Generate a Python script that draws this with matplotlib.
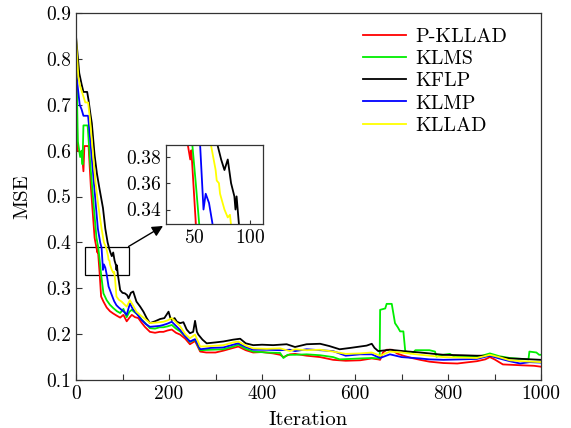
import matplotlib
matplotlib.use("Agg")
import matplotlib.pyplot as plt
from matplotlib.patches import Rectangle

plt.rcParams['font.family'] = 'serif'
plt.rcParams['font.serif'] = ['cmr10', 'DejaVu Serif']
plt.rcParams['mathtext.fontset'] = 'cm'
plt.rcParams['axes.formatter.use_mathtext'] = True

names = ['P-KLLAD', 'KLMS', 'KFLP', 'KLMP', 'KLLAD']
colors = ['#ff0000', '#00ee00', '#000000', '#0000ff', '#ffff00']

# (iteration, MSE)
red_x = [0, 3, 8, 13, 16, 18, 27, 32, 40, 44, 46, 47, 51, 54, 59, 66, 73, 80, 88, 95, 102, 109, 115, 120, 127,
         134, 141, 148, 159, 170, 180, 188, 197, 206, 215, 224, 235, 245, 256, 267, 280, 300, 317, 338, 349,
         365, 381, 400, 424, 439, 446, 460, 471, 496, 525, 553, 580, 611, 636, 650, 654, 660, 668, 680, 690,
         704, 722, 740, 760, 790, 820, 862, 880, 890, 900, 918, 940, 960, 985, 1000]
red_y = [0.84, 0.60, 0.598, 0.59, 0.555, 0.61, 0.61, 0.52, 0.41, 0.388, 0.378, 0.385, 0.33, 0.282, 0.271, 0.258,
         0.25, 0.245, 0.24, 0.236, 0.242, 0.228, 0.236, 0.242, 0.237, 0.235, 0.225, 0.216, 0.205, 0.203, 0.205,
         0.205, 0.208, 0.21, 0.203, 0.199, 0.19, 0.178, 0.185, 0.162, 0.16, 0.16, 0.164, 0.17, 0.173, 0.165,
         0.16, 0.161, 0.158, 0.155, 0.15, 0.156, 0.157, 0.153, 0.15, 0.144, 0.142, 0.143, 0.147, 0.145, 0.144,
         0.16, 0.166, 0.166, 0.158, 0.153, 0.148, 0.144, 0.14, 0.137, 0.136, 0.141, 0.145, 0.15, 0.145, 0.134,
         0.133, 0.132, 0.131, 0.129]

green_x = [0, 4, 9, 12, 14, 16, 25, 30, 38, 44, 48, 51, 54, 59, 66, 73, 80, 88, 95, 102, 109, 115, 120, 127, 134,
           141, 148, 159, 170, 180, 188, 197, 206, 215, 224, 235, 245, 256, 267, 290, 317, 338, 349, 365, 381,
           410, 439, 446, 455, 471, 496, 525, 553, 567, 590, 611, 636, 653, 654, 665, 668, 679, 686, 692, 697,
           704, 708, 720, 725, 730, 760, 772, 775, 790, 804, 815, 850, 870, 890, 910, 933, 973, 975, 990, 996,
           1000]
green_y = [0.83, 0.62, 0.586, 0.60, 0.57, 0.655, 0.655, 0.58, 0.48, 0.41, 0.388, 0.36, 0.33, 0.289, 0.274, 0.264,
           0.257, 0.25, 0.246, 0.255, 0.237, 0.249, 0.253, 0.247, 0.242, 0.232, 0.225, 0.213, 0.212, 0.215,
           0.215, 0.217, 0.22, 0.212, 0.206, 0.195, 0.183, 0.188, 0.165, 0.166, 0.167, 0.173, 0.177, 0.168,
           0.162, 0.16, 0.159, 0.148, 0.155, 0.155, 0.156, 0.154, 0.15, 0.145, 0.146, 0.147, 0.148, 0.147,
           0.253, 0.256, 0.266, 0.266, 0.224, 0.215, 0.206, 0.206, 0.163, 0.158, 0.16, 0.165, 0.165, 0.162,
           0.151, 0.155, 0.157, 0.15, 0.152, 0.152, 0.158, 0.152, 0.148, 0.145, 0.162, 0.16, 0.155, 0.155]

black_x = [0, 7, 12, 16, 24, 27, 31, 34, 40, 45, 50, 58, 63, 68, 71, 74, 77, 80, 83, 86, 87, 88, 90, 95, 100,
           105, 110, 113, 118, 123, 130, 138, 145, 152, 159, 170, 181, 190, 199, 203, 206, 212, 217, 224, 231,
           238, 245, 252, 256, 260, 263, 272, 281, 300, 317, 338, 353, 365, 381, 400, 424, 453, 471, 496, 525,
           545, 567, 590, 611, 625, 636, 642, 650, 675, 704, 740, 790, 830, 862, 890, 933, 960, 1000]
black_y = [0.849, 0.769, 0.745, 0.728, 0.728, 0.71, 0.68, 0.66, 0.59, 0.55, 0.52, 0.475, 0.43, 0.40, 0.388,
           0.378, 0.37, 0.378, 0.36, 0.35, 0.34, 0.35, 0.33, 0.296, 0.29, 0.289, 0.285, 0.278, 0.29, 0.293,
           0.271, 0.26, 0.249, 0.235, 0.224, 0.228, 0.233, 0.235, 0.249, 0.235, 0.231, 0.235, 0.227, 0.224,
           0.226, 0.21, 0.202, 0.205, 0.229, 0.205, 0.199, 0.188, 0.18, 0.182, 0.184, 0.188, 0.19, 0.18, 0.176,
           0.177, 0.176, 0.178, 0.172, 0.178, 0.179, 0.174, 0.167, 0.17, 0.173, 0.175, 0.179, 0.17, 0.163,
           0.166, 0.163, 0.16, 0.155, 0.154, 0.153, 0.153, 0.147, 0.146, 0.144]

blue_x = [0, 3, 8, 12, 16, 26, 30, 36, 41, 47, 52, 55, 58, 60, 63, 66, 70, 77, 82, 87, 92, 98, 104, 109, 116,
          122, 127, 134, 141, 150, 159, 170, 180, 188, 197, 206, 215, 224, 235, 245, 256, 267, 290, 317, 338,
          349, 365, 381, 410, 439, 460, 471, 496, 525, 553, 580, 611, 636, 654, 675, 700, 740, 760, 790, 830,
          862, 890, 910, 933, 955, 975, 1000]
blue_y = [0.80, 0.745, 0.70, 0.69, 0.676, 0.676, 0.63, 0.56, 0.50, 0.43, 0.40, 0.388, 0.34, 0.352, 0.345, 0.33,
          0.304, 0.285, 0.272, 0.263, 0.258, 0.253, 0.248, 0.242, 0.267, 0.255, 0.249, 0.24, 0.231, 0.222,
          0.216, 0.217, 0.218, 0.22, 0.223, 0.227, 0.218, 0.209, 0.195, 0.184, 0.189, 0.167, 0.17, 0.171,
          0.177, 0.18, 0.172, 0.166, 0.166, 0.165, 0.166, 0.163, 0.167, 0.165, 0.163, 0.153, 0.156, 0.156,
          0.148, 0.156, 0.15, 0.147, 0.145, 0.144, 0.145, 0.146, 0.153, 0.147, 0.141, 0.136, 0.139, 0.138]

yellow_x = [0, 5, 9, 16, 20, 26, 30, 36, 42, 48, 55, 60, 65, 69, 70, 72, 73, 77, 80, 82, 84, 87, 92, 98, 104,
            109, 116, 123, 130, 140, 150, 159, 170, 180, 188, 197, 206, 215, 224, 235, 245, 256, 267, 290, 317,
            338, 349, 365, 381, 410, 439, 460, 471, 496, 525, 553, 580, 611, 636, 654, 675, 700, 740, 790, 830,
            862, 890, 910, 933, 960, 1000]
yellow_y = [0.845, 0.76, 0.74, 0.718, 0.705, 0.705, 0.67, 0.60, 0.53, 0.48, 0.43, 0.40, 0.388, 0.37, 0.362,
            0.36, 0.352, 0.34, 0.334, 0.336, 0.32, 0.282, 0.275, 0.271, 0.265, 0.26, 0.274, 0.262, 0.249, 0.24,
            0.232, 0.224, 0.225, 0.226, 0.227, 0.23, 0.235, 0.226, 0.217, 0.2, 0.191, 0.199, 0.173, 0.174,
            0.176, 0.182, 0.184, 0.175, 0.169, 0.168, 0.169, 0.163, 0.167, 0.165, 0.166, 0.162, 0.157, 0.158,
            0.16, 0.153, 0.162, 0.16, 0.155, 0.15, 0.149, 0.148, 0.155, 0.15, 0.143, 0.141, 0.139]

xs = [red_x, green_x, black_x, blue_x, yellow_x]
ys = [red_y, green_y, black_y, blue_y, yellow_y]

fig = plt.figure(figsize=(5.71, 4.28), dpi=100)
ax = fig.add_axes([0.1331, 0.1121, 0.8144, 0.8575])

for x, y, c, n in zip(xs, ys, colors, names):
    ax.plot(x, y, color=c, lw=1.3, label=n)

ax.set_xlim(0, 1000)
ax.set_ylim(0.1, 0.9)
ax.set_xticks(range(0, 1001, 100))
ax.set_xticklabels([str(v) if v % 200 == 0 else '' for v in range(0, 1001, 100)])
ax.set_yticks([0.1, 0.2, 0.3, 0.4, 0.5, 0.6, 0.7, 0.8, 0.9])
ax.set_yticklabels(['0.1', '0.2', '0.3', '0.4', '0.5', '0.6', '0.7', '0.8', '0.9'])
ax.tick_params(direction='in', labelsize=14, length=4, width=0.8, color='#333333')
for s in ax.spines.values():
    s.set_color('#333333')
    s.set_linewidth(0.9)
ax.set_xlabel('Iteration', fontsize=15, labelpad=6)
ax.set_ylabel('MSE', fontsize=15, labelpad=11)

leg = ax.legend(loc='upper left', bbox_to_anchor=(355 / 571, 1 - 20 / 428), bbox_transform=fig.transFigure,
                frameon=False, fontsize=14.5, borderaxespad=0, handlelength=2.15, handletextpad=0.45,
                labelspacing=0.2)

# zoom box on main axes
ax.add_patch(Rectangle((20, 0.329), 93, 0.062, fill=False, ec='black', lw=0.9))
ax.annotate('', xy=(0.2855, 0.472), xycoords='figure fraction', xytext=(113, 0.391), textcoords='data',
            arrowprops=dict(arrowstyle='-|>', color='black', lw=1.0, mutation_scale=16, shrinkA=0, shrinkB=0))

ins = fig.add_axes([0.2907, 0.4766, 0.1700, 0.1846])
for x, y, c in zip(xs, ys, colors):
    ins.plot(x, y, color=c, lw=1.3)
ins.set_xlim(24, 112)
ins.set_ylim(0.329, 0.389)
ins.set_xticks([50, 100])
ins.set_yticks([0.34, 0.36, 0.38])
ins.set_yticklabels(['0.34', '0.36', '0.38'])
ins.tick_params(direction='in', labelsize=14, length=3, width=0.8, color='#333333')
for s in ins.spines.values():
    s.set_color('#333333')
    s.set_linewidth(0.9)

plt.savefig('out.png', dpi=100)
